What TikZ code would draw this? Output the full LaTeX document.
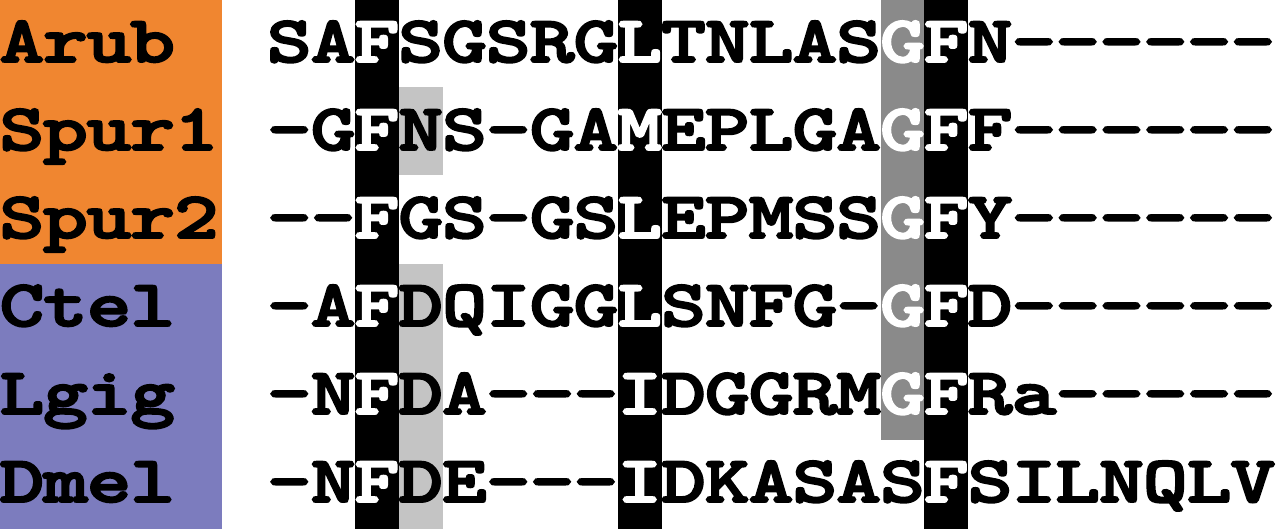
\documentclass[tikz,border=0pt]{standalone}
\usepackage{fontspec}
\newfontfamily\seqfont{lmmonolt10-bold.otf}[FakeBold=3,FakeStretch=1.3]
\usepackage{tikz}
\usetikzlibrary{positioning}
\definecolor{grouporange}{RGB}{240,134,48}
\definecolor{grouppurple}{RGB}{124,124,190}
\definecolor{midgray}{RGB}{138,138,138}
\definecolor{lightgray}{RGB}{196,196,196}
\newcommand{\colx}[1]{267.4+43.8*#1}

\begin{document}
\begin{tikzpicture}[x=1pt,y=-1pt,
    res/.style={anchor=base,inner sep=0pt,font=\fontsize{66}{74}\selectfont\seqfont},
    lab/.style={res}]
    \useasboundingbox (0,0) rectangle (1280,529);

    % Group boxes
    \fill[grouporange] (0,0) rectangle (222,264);
    \fill[grouppurple] (0,264) rectangle (222,529);

    % Shaded columns
    \fill[lightgray] ({\colx{3}},87) rectangle ({\colx{4}},175);
    \fill[lightgray] ({\colx{3}},264) rectangle ({\colx{4}},529);
    \fill[midgray] ({\colx{14}},0) rectangle ({\colx{15}},440);
    \foreach \k in {2,8,15} {
      \fill[black] ({\colx{\k}},0) rectangle ({\colx{\k}+43.8},529);
    }

    % Labels and residues
    \foreach \row/\name/\tag/\seq in {
      0/Arub/{A,r,u,b}/{S,A,F,S,G,S,R,G,L,T,N,L,A,S,G,F,N,-,-,-,-,-,-},
      1/Spur1/{S,p,u,r,1}/{-,G,F,N,S,-,G,A,M,E,P,L,G,A,G,F,F,-,-,-,-,-,-},
      2/Spur2/{S,p,u,r,2}/{-,-,F,G,S,-,G,S,L,E,P,M,S,S,G,F,Y,-,-,-,-,-,-},
      3/Ctel/{C,t,e,l}/{-,A,F,D,Q,I,G,G,L,S,N,F,G,-,G,F,D,-,-,-,-,-,-},
      4/Lgig/{L,g,i,g}/{-,N,F,D,A,-,-,-,I,D,G,G,R,M,G,F,R,a,-,-,-,-,-},
      5/Dmel/{D,m,e,l}/{-,N,F,D,E,-,-,-,I,D,K,A,S,A,S,F,S,I,L,N,Q,L,V}} {
      \foreach \c [count=\k from 0] in \tag {
        \node[lab] (lab-\name-\k) at ({21.9+43.6*\k},{62+88*\row}) {\c};
      }
      \foreach \c [count=\k from 0] in \seq {
        \pgfmathtruncatemacro\onbar{(\k==2)||(\k==8)||(\k==15)||((\k==14)&&(\row<5))}
        \ifnum\onbar=1 \def\rescol{white}\else \def\rescol{black}\fi
        \node[res,text=\rescol] (\name-\k) at ({\colx{\k}+21.9},{62+88*\row}) {\c};
      }
    }
  \end{tikzpicture}
\end{document}
